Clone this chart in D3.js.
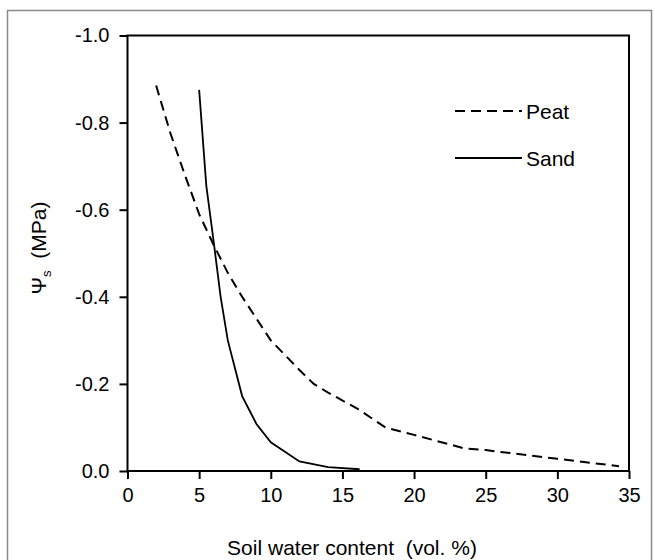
<!DOCTYPE html>
<html>
<head>
<meta charset="utf-8">
<script src="https://cdn.jsdelivr.net/npm/d3@7"></script>
<style>
  body { margin: 0; background: #fff; }
  svg { display: block; font-family: "Liberation Sans", Arial, sans-serif; }
</style>
</head>
<body>
<svg width="655" height="560"></svg>
<script>
// soil water content (vol. %) and osmotic potential (MPa)
var peatX = [2, 3, 4, 5, 6, 7, 8, 9, 10, 12, 13, 14, 16, 18, 20, 23.5, 25, 30, 34.3];
var peatY = [-0.885, -0.775, -0.68, -0.59, -0.52, -0.455, -0.4, -0.35, -0.3, -0.232, -0.2, -0.18, -0.144, -0.1, -0.083, -0.052, -0.048, -0.028, -0.011];
var sandX = [5, 5.5, 6, 6.5, 7, 8, 9, 10, 12, 14, 16.2];
var sandY = [-0.875, -0.655, -0.53, -0.4, -0.3, -0.172, -0.108, -0.066, -0.022, -0.009, -0.004];
var xTicks = [0, 5, 10, 15, 20, 25, 30, 35];
var yTicks = [-1.0, -0.8, -0.6, -0.4, -0.2, 0.0];
var legendLabels = ["Peat", "Sand"];

var plot = {left: 127.5, right: 629, top: 35.5, bottom: 471};

var svg = d3.select("svg");

// outer frame round the figure
svg.append("rect")
    .attr("x", 7.5)
    .attr("y", 10.5)
    .attr("width", 644)
    .attr("height", 570)
    .attr("fill", "none")
    .attr("stroke", "#8a8a8a")
    .attr("stroke-width", 1.5);

var x = d3.scaleLinear().domain([0, 35]).range([plot.left, plot.right]);
var y = d3.scaleLinear().domain([0, -1.0]).range([plot.bottom, plot.top]);

var xAxis = svg.append("g")
    .attr("transform", "translate(0," + plot.bottom + ")")
    .call(d3.axisBottom(x).tickValues(xTicks).tickSize(8).tickSizeOuter(0).tickPadding(9)
        .tickFormat(function(d) { return String(d); }));

var yAxis = svg.append("g")
    .attr("transform", "translate(" + plot.left + ",0)")
    .call(d3.axisLeft(y).tickValues(yTicks).tickSize(8).tickSizeOuter(0).tickPadding(10)
        .tickFormat(function(d) { return d.toFixed(1); }));

[xAxis, yAxis].forEach(function(axis) {
    axis.select(".domain").remove();
    axis.selectAll("line").attr("stroke", "#000").attr("stroke-width", 2);
    axis.selectAll("text")
        .attr("fill", "#000")
        .style("font-size", "20px")
        .style("font-family", "'Liberation Sans', Arial, sans-serif");
});

// plot box
svg.append("rect")
    .attr("x", plot.left)
    .attr("y", plot.top)
    .attr("width", plot.right - plot.left)
    .attr("height", plot.bottom - plot.top)
    .attr("fill", "none")
    .attr("stroke", "#000")
    .attr("stroke-width", 2);

var line = d3.line()
    .x(function(d) { return x(d[0]); })
    .y(function(d) { return y(d[1]); });

svg.append("path")
    .datum(peatX.map(function(v, i) { return [v, peatY[i]]; }))
    .attr("d", line)
    .attr("fill", "none")
    .attr("stroke", "#000")
    .attr("stroke-width", 2)
    .attr("stroke-dasharray", "10 6");

svg.append("path")
    .datum(sandX.map(function(v, i) { return [v, sandY[i]]; }))
    .attr("d", line)
    .attr("fill", "none")
    .attr("stroke", "#000")
    .attr("stroke-width", 1.8);

// legend
var legend = svg.append("g");
legendLabels.forEach(function(label, i) {
    var ly = 111 + i * 47;
    legend.append("line")
        .attr("x1", 455).attr("x2", 522)
        .attr("y1", ly).attr("y2", ly)
        .attr("stroke", "#000")
        .attr("stroke-width", 1.8)
        .attr("stroke-dasharray", i === 0 ? "10 6" : null);
    legend.append("text")
        .attr("x", 526)
        .attr("y", ly + 7.5)
        .style("font-size", "21px")
        .text(label);
});

// axis titles
svg.append("text")
    .attr("x", 352)
    .attr("y", 555)
    .attr("text-anchor", "middle")
    .style("font-size", "21px")
    .attr("xml:space", "preserve")
    .text("Soil water content  (vol. %)");

var yTitle = svg.append("text")
    .attr("transform", "translate(46,248) rotate(-90)")
    .attr("text-anchor", "middle")
    .attr("xml:space", "preserve")
    .style("font-size", "21px");
yTitle.append("tspan").text("Ψ");
yTitle.append("tspan").attr("dy", 5).style("font-size", "13px").text("s");
yTitle.append("tspan").attr("dy", -5).text("  (MPa)");
</script>
</body>
</html>
